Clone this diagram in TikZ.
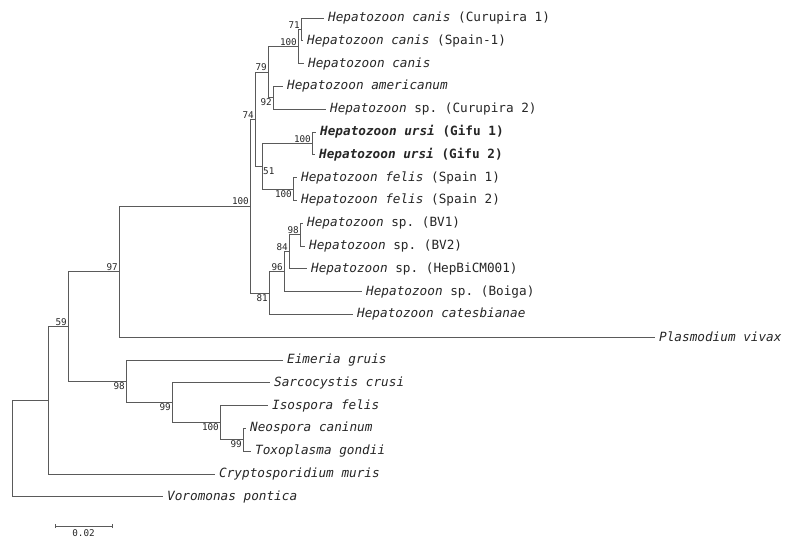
\documentclass[tikz,border=0pt]{standalone}
\usepackage{fontspec}
\setmonofont{DejaVu Sans Mono}
\usepackage{xcolor}
\usepackage{tikz}
\usetikzlibrary{positioning}

\definecolor{treeline}{HTML}{5A5A5A}
\definecolor{treetext}{HTML}{262626}

\begin{document}
\begin{tikzpicture}[
      x=1pt, y=-1pt,
      branch/.style={draw=treeline, line width=0.9pt},
      taxon/.style={font=\ttfamily\fontsize{12.7}{14}\selectfont, text=treetext, inner xsep=4pt, inner ysep=0pt},
      bs/.style={font=\ttfamily\fontsize{9.3}{10}\selectfont, text=treetext, inner sep=1pt},
      node distance=0pt
    ]
      \useasboundingbox (0,0) rectangle (790,539);

      % leaf ends
      \coordinate (e1) at (324,18);
      \coordinate (e2) at (303,40.8);
      \coordinate (e3) at (304,63.6);
      \coordinate (e4) at (283,86.4);
      \coordinate (e5) at (326,109.2);
      \coordinate (e6) at (316,132);
      \coordinate (e7) at (315,154.8);
      \coordinate (e8) at (297,177.6);
      \coordinate (e9) at (297,200.4);
      \coordinate (e10) at (303,223.2);
      \coordinate (e11) at (305,246);
      \coordinate (e12) at (307,268.8);
      \coordinate (e13) at (362,291.6);
      \coordinate (e14) at (353,314.4);
      \coordinate (e15) at (655,337.2);
      \coordinate (e16) at (283,360);
      \coordinate (e17) at (270,382.8);
      \coordinate (e18) at (268,405.6);
      \coordinate (e19) at (246,428.4);
      \coordinate (e20) at (251,451.2);
      \coordinate (e21) at (215,474);
      \coordinate (e22) at (163,496.8);

      % internal nodes
      \coordinate (n71) at (301,29.4);
      \coordinate (n100a) at (298,46.5);
      \coordinate (n92) at (273,97.8);
      \coordinate (n79) at (268,72.2);
      \coordinate (n100c) at (312,143.4);
      \coordinate (n100d) at (293,189);
      \coordinate (n51) at (262,166.2);
      \coordinate (n74) at (255,119.2);
      \coordinate (n98b) at (300,234.6);
      \coordinate (n84) at (289,251.7);
      \coordinate (n96) at (284,271.7);
      \coordinate (n81) at (269,293);
      \coordinate (n100) at (250,206.1);
      \coordinate (n97) at (119,271.7);
      \coordinate (n99b) at (243,439.8);
      \coordinate (n100b) at (220,422.7);
      \coordinate (n99) at (172,402.8);
      \coordinate (n98) at (126,381.4);
      \coordinate (n59) at (68,326.5);
      \coordinate (nout) at (48,400.3);
      \coordinate (root) at (12,448.5);

      % branches
      \draw[branch] (n71) |- (e1) (n71) |- (e2);
      \draw[branch] (n100a) |- (n71) (n100a) |- (e3);
      \draw[branch] (n92) |- (e4) (n92) |- (e5);
      \draw[branch] (n79) |- (n100a) (n79) |- (n92);
      \draw[branch] (n100c) |- (e6) (n100c) |- (e7);
      \draw[branch] (n100d) |- (e8) (n100d) |- (e9);
      \draw[branch] (n51) |- (n100c) (n51) |- (n100d);
      \draw[branch] (n74) |- (n79) (n74) |- (n51);
      \draw[branch] (n98b) |- (e10) (n98b) |- (e11);
      \draw[branch] (n84) |- (n98b) (n84) |- (e12);
      \draw[branch] (n96) |- (n84) (n96) |- (e13);
      \draw[branch] (n81) |- (n96) (n81) |- (e14);
      \draw[branch] (n100) |- (n74) (n100) |- (n81);
      \draw[branch] (n97) |- (n100) (n97) |- (e15);
      \draw[branch] (n99b) |- (e19) (n99b) |- (e20);
      \draw[branch] (n100b) |- (e18) (n100b) |- (n99b);
      \draw[branch] (n99) |- (e17) (n99) |- (n100b);
      \draw[branch] (n98) |- (e16) (n98) |- (n99);
      \draw[branch] (n59) |- (n97) (n59) |- (n98);
      \draw[branch] (nout) |- (n59) (nout) |- (e21);
      \draw[branch] (root) |- (nout) (root) |- (e22);

      % taxa
      \node[taxon, right=of e1] (t1) {\textit{Hepatozoon canis} (Curupira 1)};
      \node[taxon, right=of e2] (t2) {\textit{Hepatozoon canis} (Spain-1)};
      \node[taxon, right=of e3] (t3) {\textit{Hepatozoon canis}};
      \node[taxon, right=of e4] (t4) {\textit{Hepatozoon americanum}};
      \node[taxon, right=of e5] (t5) {\textit{Hepatozoon} sp. (Curupira 2)};
      \node[taxon, right=of e6] (t6) {\bfseries\textit{Hepatozoon ursi} (Gifu 1)};
      \node[taxon, right=of e7] (t7) {\bfseries\textit{Hepatozoon ursi} (Gifu 2)};
      \node[taxon, right=of e8] (t8) {\textit{Hepatozoon felis} (Spain 1)};
      \node[taxon, right=of e9] (t9) {\textit{Hepatozoon felis} (Spain 2)};
      \node[taxon, right=of e10] (t10) {\textit{Hepatozoon} sp. (BV1)};
      \node[taxon, right=of e11] (t11) {\textit{Hepatozoon} sp. (BV2)};
      \node[taxon, right=of e12] (t12) {\textit{Hepatozoon} sp. (HepBiCM001)};
      \node[taxon, right=of e13] (t13) {\textit{Hepatozoon} sp. (Boiga)};
      \node[taxon, right=of e14] (t14) {\textit{Hepatozoon catesbianae}};
      \node[taxon, right=of e15] (t15) {\textit{Plasmodium vivax}};
      \node[taxon, right=of e16] (t16) {\textit{Eimeria gruis}};
      \node[taxon, right=of e17] (t17) {\textit{Sarcocystis crusi}};
      \node[taxon, right=of e18] (t18) {\textit{Isospora felis}};
      \node[taxon, right=of e19] (t19) {\textit{Neospora caninum}};
      \node[taxon, right=of e20] (t20) {\textit{Toxoplasma gondii}};
      \node[taxon, right=of e21] (t21) {\textit{Cryptosporidium muris}};
      \node[taxon, right=of e22] (t22) {\textit{Voromonas pontica}};

      % bootstrap values
      \node[bs, above left=of n71] (b71) {71};
      \node[bs, above left=of n100a] (b100a) {100};
      \node[bs, above left=of n79] (b79) {79};
      \node[bs, below left=of n92] (b92) {92};
      \node[bs, above left=of n74] (b74) {74};
      \node[bs, above left=of n100c] (b100c) {100};
      \node[bs, below right=of n51] (b51) {51};
      \node[bs, below left=of n100d] (b100d) {100};
      \node[bs, above left=of n98b] (b98b) {98};
      \node[bs, above left=of n84] (b84) {84};
      \node[bs, above left=of n96] (b96) {96};
      \node[bs, below left=of n81] (b81) {81};
      \node[bs, above left=of n100] (b100) {100};
      \node[bs, above left=of n97] (b97) {97};
      \node[bs, above left=of n59] (b59) {59};
      \node[bs, below left=of n98] (b98) {98};
      \node[bs, below left=of n99] (b99) {99};
      \node[bs, below left=of n100b] (b100b) {100};
      \node[bs, below left=of n99b] (b99b) {99};

      % scale bar
      \coordinate (s1) at (55,526);
      \coordinate (s2) at (112,526);
      \coordinate (smid) at (83.5,526);
      \draw[branch] (s1) -- (s2);
      \draw[branch] ([yshift=-2pt]s1) -- ([yshift=2pt]s1);
      \draw[branch] ([yshift=-2pt]s2) -- ([yshift=2pt]s2);
      \node[bs, below=2pt of smid] (slabel) {0.02};
\end{tikzpicture}
\end{document}
